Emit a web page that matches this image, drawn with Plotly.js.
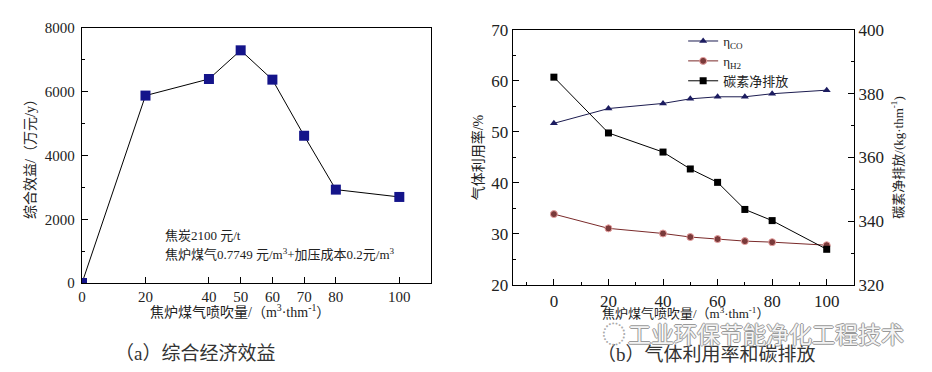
<!DOCTYPE html>
<html>
<head>
<meta charset="utf-8">
<script src="https://cdn.plot.ly/plotly-3.0.1.min.js"></script>
<style>html,body{margin:0;padding:0;background:#fff;}#chart{width:932px;height:372px;}</style>
</head>
<body>
<div id="chart"></div>
<script>
// ---- data ----
const econX = [0, 20, 40, 50, 60, 70, 80, 100];
const econY = [0, 5880, 6400, 7300, 6380, 4620, 2930, 2700];
const econTicks = [0, 20, 40, 50, 60, 70, 80, 100];

const gasX = [0, 20, 40, 50, 60, 70, 80, 100];
const etaCO = [51.7, 54.6, 55.6, 56.5, 56.9, 56.9, 57.5, 58.2];
const etaH2 = [33.9, 31.1, 30.1, 29.4, 29.0, 28.6, 28.4, 27.8];
const carbon = [385.2, 367.7, 361.7, 356.4, 352.2, 343.7, 340.2, 331.2];

const FONT = 'Liberation Serif, Noto Sans CJK SC, serif';
const CJK = 'Noto Sans CJK SC, sans-serif';

const traces = [
  {x: econX, y: econY, xaxis: 'x', yaxis: 'y', type: 'scatter', mode: 'lines+markers',
   line: {color: '#000', width: 1}, marker: {symbol: 'square', size: 10, color: '#14148a'},
   showlegend: false},
  {x: gasX, y: etaCO, xaxis: 'x2', yaxis: 'y2', type: 'scatter', mode: 'lines+markers',
   name: 'η<sub>CO</sub>', line: {color: '#1c1c50', width: 1},
   marker: {symbol: 'triangle-up', size: 7, color: '#1c1c60'}},
  {x: gasX, y: etaH2, xaxis: 'x2', yaxis: 'y2', type: 'scatter', mode: 'lines+markers',
   name: 'η<sub>H2</sub>', line: {color: '#7a2a2a', width: 1},
   marker: {symbol: 'circle', size: 7, color: '#7a3a3a', line: {color: '#e8a0a0', width: 1}}},
  {x: gasX, y: carbon, xaxis: 'x2', yaxis: 'y3', type: 'scatter', mode: 'lines+markers',
   name: '碳素净排放', line: {color: '#000', width: 1},
   marker: {symbol: 'square', size: 7, color: '#000'}}
];

const axBase = {showline: true, linecolor: '#000', linewidth: 1.2, mirror: true,
  ticks: 'inside', ticklen: 6, tickcolor: '#000', showgrid: false, zeroline: false};

const xTitle = '焦炉煤气喷吹量/（m<sup>3</sup>·thm<sup>-1</sup>）';

const layout = {
  width: 932, height: 372,
  margin: {l: 0, r: 0, t: 0, b: 0},
  paper_bgcolor: '#fff', plot_bgcolor: '#fff',
  font: {family: FONT, color: '#222'},
  showlegend: true,
  legend: {x: 0.733, y: 0.93, xanchor: 'left', yanchor: 'top', bgcolor: 'rgba(0,0,0,0)',
    font: {family: FONT, size: 13, color: '#222'}, tracegroupgap: 0},
  xaxis: Object.assign({}, axBase, {domain: [0.088, 0.4625], range: [0, 110],
    tickmode: 'array', tickvals: econTicks, tickfont: {size: 15, family: FONT},
    anchor: 'y'}),
  yaxis: Object.assign({}, axBase, {domain: [0.2392, 0.9247], range: [0, 8000],
    dtick: 2000, tickfont: {size: 15, family: FONT}, ticklabelstandoff: 3,
    minor: {ticks: 'inside', ticklen: 3, dtick: 1000, tickcolor: '#000'},
    title: {text: '综合效益/（万元/y）', font: {size: 14, family: FONT}, standoff: 6},
    anchor: 'x'}),
  xaxis2: Object.assign({}, axBase, {domain: [0.5504, 0.9163], range: [-15, 110],
    dtick: 20, tick0: 0, tickfont: {size: 17, family: FONT},
    minor: {ticks: 'inside', ticklen: 3, dtick: 10, tickcolor: '#000'},
    anchor: 'y2'}),
  yaxis2: Object.assign({}, axBase, {domain: [0.2339, 0.9194], range: [20, 70], mirror: false,
    dtick: 10, tickfont: {size: 17, family: FONT},
    minor: {ticks: 'inside', ticklen: 3, dtick: 5, tickcolor: '#000'},
    title: {text: '气体利用率/%', font: {size: 14, family: FONT}, standoff: 4},
    anchor: 'x2'}),
  yaxis3: Object.assign({}, axBase, {range: [320, 400], overlaying: 'y2', side: 'right', mirror: false,
    dtick: 20, tickfont: {size: 17, family: FONT},
    minor: {ticks: 'inside', ticklen: 3, dtick: 10, tickcolor: '#000'},
    title: {text: '碳素净排放/(kg·thm<sup>-1</sup>)', font: {size: 13, family: FONT}, standoff: 10},
    anchor: 'x2'}),
  annotations: [
    {xref: 'paper', yref: 'paper', x: 240/932, y: 1 - 311/372, xanchor: 'center', yanchor: 'middle',
     text: xTitle, showarrow: false, font: {size: 14, family: FONT, color: '#222'}},
    {xref: 'paper', yref: 'paper', x: 685/932, y: 1 - 313/372, xanchor: 'center', yanchor: 'middle',
     text: xTitle, showarrow: false, font: {size: 13, family: FONT, color: '#222'}},
    {xref: 'paper', yref: 'paper', x: 163/932, y: 1 - 235/372, xanchor: 'left', yanchor: 'middle',
     text: '焦炭2100 元/t', showarrow: false, font: {size: 13, family: FONT, color: '#222'}},
    {xref: 'paper', yref: 'paper', x: 163/932, y: 1 - 254/372, xanchor: 'left', yanchor: 'middle',
     text: '焦炉煤气0.7749 元/m<sup>3</sup>+加压成本0.2元/m<sup>3</sup>', showarrow: false,
     font: {size: 13, family: FONT, color: '#222'}},
    {xref: 'paper', yref: 'paper', x: 113/932, y: 1 - 353/372, xanchor: 'left', yanchor: 'middle',
     text: '（a）综合经济效益', showarrow: false, font: {size: 19, family: FONT, color: '#333'}},
    {xref: 'paper', yref: 'paper', x: 595/932, y: 1 - 354/372, xanchor: 'left', yanchor: 'middle',
     text: '（b）气体利用率和碳排放', showarrow: false, font: {size: 19, family: FONT, color: '#333'}},
    {xref: 'paper', yref: 'paper', x: 766/932, y: 1 - 333/372, xanchor: 'center', yanchor: 'middle',
     text: '工业环保节能净化工程技术', showarrow: false,
     font: {size: 23, family: CJK, color: '#f4f4f4',
       shadow: '1px 0 0 #999, -1px 0 0 #999, 0 1px 0 #999, 0 -1px 0 #999'}},
    {xref: 'paper', yref: 'paper', x: 614/932, y: 1 - 332/372, xanchor: 'center', yanchor: 'middle',
     text: '◌', showarrow: false,
     font: {size: 24, family: CJK, color: '#aaa'}}
  ]
};

Plotly.newPlot('chart', traces, layout, {staticPlot: true, displayModeBar: false});
</script>
</body>
</html>
